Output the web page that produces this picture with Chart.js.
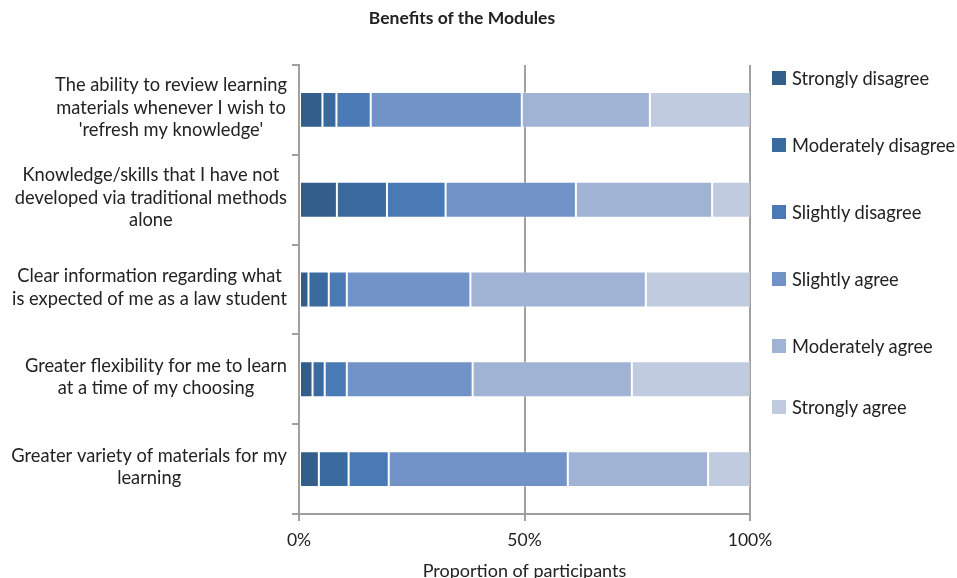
<!DOCTYPE html>
<html>
<head>
<meta charset="utf-8">
<title>Benefits of the Modules</title>
<script src="https://cdn.jsdelivr.net/npm/chart.js@4.4.1/dist/chart.umd.min.js"></script>
<style>
  html, body { margin: 0; padding: 0; background: #fff; }
  #wrap { position: relative; width: 957px; height: 578px; overflow: hidden; font-family: Lato, sans-serif; color: #222; }
  #title { position: absolute; left: 0; top: 7px; width: 924px; text-align: center; font-weight: bold; font-size: 17.5px; }
  #legend { position: absolute; left: 772px; top: 0; }
  #legend .item { position: absolute; left: 0; height: 20px; display: flex; align-items: center; white-space: nowrap; font-size: 18.3px; }
  #legend .swatch { width: 14px; height: 14px; margin-right: 6px; flex: none; }
  canvas { position: absolute; left: 0; top: 0; }
</style>
</head>
<body>
<div id="wrap">
  <canvas id="chart" width="957" height="578"></canvas>
  <div id="title">Benefits of the Modules</div>
  <div id="legend"></div>
</div>
<script>
// Survey statements, one wrapped label per bar (top to bottom)
const categories = [
    ['The ability to review learning', 'materials whenever I wish to', "'refresh my knowledge'"],
    ['Knowledge/skills that I have not', 'developed via traditional methods', 'alone'],
    ['Clear information regarding what', 'is expected of me as a law student'],
    ['Greater flexibility for me to learn', 'at a time of my choosing'],
    ['Greater variety of materials for my', 'learning']
];

const responseLabels = [
    'Strongly disagree',
    'Moderately disagree',
    'Slightly disagree',
    'Slightly agree',
    'Moderately agree',
    'Strongly agree'
];

// Share of participants (%) per response, in the same order as categories
const stronglyDisagree   = [5.2, 8.4, 2.1, 3.0, 4.4];
const moderatelyDisagree = [3.1, 11.1, 4.5, 2.7, 6.6];
const slightlyDisagree   = [7.6, 13.0, 4.0, 4.9, 8.9];
const slightlyAgree      = [33.5, 28.9, 27.4, 27.9, 39.7];
const moderatelyAgree    = [28.4, 30.2, 38.9, 35.3, 31.1];
const stronglyAgree      = [22.2, 8.4, 23.1, 26.2, 9.3];

const xTickValues = [0, 50, 100];

const responseColors = ['#335d8a', '#3a6b9f', '#4a7ab5', '#7293c7', '#a1b3d5', '#c1cbe0'];
const AXIS_COLOR = '#a0a0a0';
const TEXT_COLOR = '#222222';
const FONT_FAMILY = 'Lato, sans-serif';
const LABEL_SIZE = 18.3;
const TICK_SIZE = 17.5;
const LABEL_LINE_HEIGHT = 22.5;
const LABEL_SHIFT = -2;

// legend row centres, spaced like the original layout
const legendRowCenters = [78, 145, 212, 279, 346, 407];

const seriesValues = [
    stronglyDisagree, moderatelyDisagree, slightlyDisagree,
    slightlyAgree, moderatelyAgree, stronglyAgree
];

const datasets = responseLabels.map((label, i) => ({
    label,
    data: seriesValues[i],
    backgroundColor: responseColors[i],
    borderColor: 'rgba(255, 255, 255, 0.35)',
    borderWidth: 1,
    borderSkipped: false,
    barPercentage: 0.4,
    categoryPercentage: 1
}));

// Category labels: each block is right-anchored to the axis with its lines centred
const wrappedCategoryLabels = {
    id: 'wrappedCategoryLabels',
    afterDraw(chart) {
        const scale = chart.scales.y;
        const ctx = chart.ctx;
        ctx.save();
        ctx.font = `${LABEL_SIZE}px ${FONT_FAMILY}`;
        ctx.fillStyle = TEXT_COLOR;
        ctx.textAlign = 'center';
        ctx.textBaseline = 'middle';
        scale.getLabels().forEach((lines, i) => {
            const y = scale.getPixelForTick(i) + LABEL_SHIFT;
            const blockWidth = Math.max(...lines.map(l => ctx.measureText(l).width));
            const cx = scale.right - 12 - blockWidth / 2;
            const firstY = y - (lines.length - 1) * LABEL_LINE_HEIGHT / 2;
            lines.forEach((line, j) => ctx.fillText(line, cx, firstY + j * LABEL_LINE_HEIGHT));
        });
        ctx.restore();
    }
};

const chart = new Chart(document.getElementById('chart'), {
    type: 'bar',
    data: { labels: categories, datasets },
    options: {
        indexAxis: 'y',
        responsive: false,
        animation: false,
        devicePixelRatio: 1,
        layout: { padding: { top: 65, right: 207, bottom: 0, left: 0 } },
        plugins: {
            legend: { display: false },
            title: { display: false },
            tooltip: { enabled: false }
        },
        scales: {
            x: {
                stacked: true,
                min: 0,
                max: 100,
                afterBuildTicks: scale => { scale.ticks = xTickValues.map(value => ({ value })); },
                afterFit: scale => { scale.height = 64; },
                ticks: {
                    callback: v => v + '%',
                    color: TEXT_COLOR,
                    padding: 9,
                    maxRotation: 0,
                    font: { family: FONT_FAMILY, size: TICK_SIZE }
                },
                grid: { color: AXIS_COLOR, lineWidth: 2, tickLength: 7 },
                border: { display: true, color: AXIS_COLOR, width: 2 },
                title: {
                    display: true,
                    text: 'Proportion of participants',
                    color: TEXT_COLOR,
                    padding: { top: 0, bottom: -4 },
                    font: { family: FONT_FAMILY, size: 18 }
                }
            },
            y: {
                stacked: true,
                afterFit: scale => { scale.width = 299; },
                ticks: { display: false },
                grid: {
                    drawOnChartArea: false,
                    offset: true,
                    color: AXIS_COLOR,
                    lineWidth: 2,
                    tickLength: 7
                },
                border: { display: true, color: AXIS_COLOR, width: 2 }
            }
        }
    },
    plugins: [wrappedCategoryLabels]
});

// HTML legend built from the chart's own legend items
const legendEl = document.getElementById('legend');
Chart.defaults.plugins.legend.labels.generateLabels(chart).forEach((item, i) => {
    const row = document.createElement('div');
    row.className = 'item';
    row.style.top = (legendRowCenters[i] - 10) + 'px';
    const swatch = document.createElement('span');
    swatch.className = 'swatch';
    swatch.style.background = item.fillStyle;
    const text = document.createElement('span');
    text.textContent = item.text;
    row.appendChild(swatch);
    row.appendChild(text);
    legendEl.appendChild(row);
});
</script>
</body>
</html>
